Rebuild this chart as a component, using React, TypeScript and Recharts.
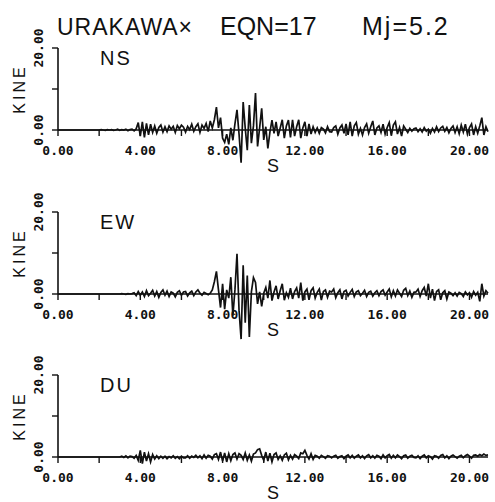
import React from "react";
import { LineChart, Line, XAxis, YAxis } from "recharts";

// ---------- data ----------
const DT = 0.1; // sampling step, s
const X_MAX = 20.9;
const X_TICKS = [0, 2, 4, 6, 8, 10, 12, 14, 16, 18, 20];
const X_LABELED = [0, 4, 8, 12, 16, 20];
const Y_TICKS = [0, 10, 20];
const Y_LABELED = [0, 20];
const Y_DOMAIN: [number, number] = [0, 20];

const TITLE_STATION = "URAKAWA×";
const TITLE_EQN = "EQN=17";
const TITLE_MJ = "Mj=5.2";
const COMPONENTS = ["NS", "EW", "DU"];
const X_TITLE = "S";
const Y_TITLE = "KINE";

const NS = [
  0, 0, 0, 0, 0, 0, 0, 0, 0, 0,
  0, 0, 0, 0, 0, 0, 0, 0, 0, 0, 0,
  0.1, 0, -0.1, 0.1, 0, 0.1, -0.1, 0, 0.2, -0.1,
  0.1, 0, 0.2, -0.2, 0.1, 0.2, -0.2, 0.3, 1.8, -1.5,
  2.0, -1.8, 1.6, -1.2, 1.4, -0.6, 1.0, -0.8, 0.6, 1.2,
  -0.5, 0.8, -0.4, 1.0, 0.2, 0.9, -0.6, 1.1, 0.3, 1.2, 0.7,
  -0.5, 0.9, 0.1, 1.4, -0.3, 0.8, 1.5, -0.6, 1.2, 0.4,
  1.6, -0.4, 2.2, 0.5, 2.5, 5.6, 0.5, 3.0, -2.0, -3.0,
  -1.0, -3.5, 0.5, -2.5, 1.5, 4.9, -1.0, -8.0, 6.8, 0.5,
  -4.9, 6.1, -3.2, 1.0, 9.0, -4.0, 0.5, 5.3, -2.4, 0.8,
  -4.5, -0.5, 2.4, -0.8, 2.0, -1.5, 0.5, 2.5, -2.0, 1.0,
  2.4, -1.8, 2.5, -1.5, 0.8, 2.5, -2.0, 0.5, 2.0, -1.5,
  1.5, -1.0, 0.8, -0.6, 0.5, -0.8, 0.6, 0.2, -0.7, 0.8, -0.4,
  -0.5, 0.6, 1.0, -1.0, 0.5, 1.2, -0.8, 1.5, -1.2, 2.0,
  -1.5, 1.0, 1.8, -1.0, 0.4, -1.2, 0.6, 1.5, -0.8, 0.8,
  2.2, -1.2, 0.5, 1.0, -0.6, 1.4, -1.0, 0.6, 1.8, -1.4,
  1.2, 2.0, -1.0, 0.6, -1.5, 1.0, 0.2, -0.6, 0.4, -0.3, 0.3,
  0.5, -0.4, 0.3, -0.5, 0.6, -0.3, 0.2, -0.8, 0.4, -0.5,
  0.8, -0.4, 0.5, 0.9, -0.3, 0.6, -0.7, 0.4, 1.0, -0.6,
  0.8, -0.9, 1.2, -0.5, 1.4, -1.0, 0.6, 1.5, -1.2, 0.8,
  -0.8, 1.0, 3.0, -1.2, 0.8, -0.4,
];

const EW = [
  0, 0, 0, 0, 0, 0, 0, 0, 0, 0,
  0, 0, 0, 0, 0, 0, 0, 0, 0, 0, 0,
  0, 0, 0, 0, 0, 0, 0, 0, 0, 0,
  0.1, 0, -0.1, 0.1, 0, 0.1, 0.3, -0.4, 0.6, -0.3,
  0.5, -0.6, 0.8, -0.4, 0.2, 0.9, -0.5, 0.6, -0.8, 0.4,
  1.0, -0.3, 0.7, -0.6, 0.5, 0.2, -0.7, 0.4, 0.8, -0.3, 0.5,
  0.6, -0.5, 0.3, 0.7, -0.4, 0.5, 1.0, 0.2, -0.3, 0.4,
  0.1, -0.2, 0.2, 1.0, 3.0, 5.5, 1.0, -3.3, 2.5, -3.7,
  1.0, -1.0, 4.1, -5.3, 1.0, 9.8, -4.0, -11.0, 7.0, -7.0,
  4.5, -10.5, 0.5, 4.0, 2.8, -2.4, 0.5, -3.0, 0.2, 1.6,
  -1.0, 3.3, -1.6, 0.5, 2.0, -1.2, 0.8, 2.5, -1.5, 0.3,
  -0.8, 1.4, -1.2, 0.6, 1.5, -1.0, 2.8, -1.6, 0.5, 1.2,
  -1.4, 0.8, 1.5, -1.0, 0.4, 1.2, -1.5, 0.6, 1.0, -0.8, 0.7,
  0.5, 1.2, -0.9, 0.3, 1.0, -1.2, 0.6, 0.9, -0.5, 0.4,
  1.1, -0.6, 0.5, 0.8, -0.4, 0.2, 0.9, -0.6, 0.4, 0.7,
  -0.5, 0.3, 0.8, -0.4, 0.6, 1.0, -0.3, 0.5, 1.2, -0.7,
  0.8, -0.5, 1.0, 0.2, -0.6, 0.9, 1.4, -0.4, 0.7, -0.8, 0.4,
  0.5, 1.2, -0.6, 0.8, 1.6, -0.5, 2.5, -1.0, 1.2, -1.6,
  0.6, 1.0, -1.4, 0.3, 0.8, -1.2, 0.5, 0.2, -0.4, 0.3,
  -0.5, 0.4, 0.1, -0.6, 0.5, -0.2, 0.3, -0.8, 0.6, -0.3,
  0.4, -1.8, 2.5, -0.5, 0.8, 0.2,
];

const DU = [
  0, 0, 0, 0, 0, 0, 0, 0, 0, 0,
  0, 0, 0, 0, 0, 0, 0, 0, 0, 0, 0,
  0, 0, 0, 0, 0, 0, 0, 0, 0, 0,
  0.2, -0.1, 0.3, -0.2, 0.2, 0.1, -0.3, 0.4, -0.8, 1.6,
  -1.6, 1.2, -1.0, 0.8, -1.2, 0.6, -0.5, 0.3, -0.4, 0.2,
  -0.3, 0.2, -0.4, 0.1, -0.2, 0.3, -0.3, 0.1, -0.4, 0.2, -0.2,
  -0.2, 0.3, -0.3, 0.2, -0.1, 0.4, -0.2, 0.3, -0.4, 0.5,
  -0.3, 0.4, 0.2, -0.5, 0.6, 0.8, -0.6, 1.2, -1.0, 1.0,
  -1.2, 0.8, -0.9, 0.6, 1.0, -0.5, 0.8, 0.4, -0.6, 1.0,
  -0.8, 0.5, -1.0, 0.7, 1.0, 1.8, 2.0, 0.4, -0.8, 1.2,
  -1.0, 0.9, -1.2, 0.6, 1.0, -0.6, 0.3, -0.8, 0.5, 0.9,
  -0.7, 0.4, -0.5, 0.6, 0.2, -0.4, 1.0, 0.8, 1.6, 0.4,
  -0.5, 0.8, -0.6, 0.4, 0.2, -0.3, 0.4, 0.1, -0.3, 0.3, 0.2,
  -0.2, 0.2, 0.4, -0.3, 0.1, 0.3, -0.4, 0.2, 0.5, -0.2,
  0.4, -0.3, 0.2, 0.5, -0.2, 0.3, -0.4, 0.3, 0.6, -0.2,
  0.3, -0.3, 0.4, 0.2, -0.4, 0.5, -0.2, 0.3, 0.6, -0.3,
  0.4, -0.2, 0.5, 0.1, -0.4, 0.3, 0.5, -0.3, 0.2, 0.4, -0.1,
  -0.2, 0.3, -0.4, 0.2, 0.5, -0.2, 0.3, 0.1, -0.5, 0.3,
  0.2, -0.3, 0.4, 0.6, -0.2, 0.3, -0.4, 0.2, 0.5, 0.1,
  -0.3, 0.2, 0.4, -0.2, 0.3, 0.6, 0.2, -0.3, 0.4, 0.5,
  0.2, 0.6, 0.3, 0.7, 0.4, 0.5,
];

const SERIES = [NS, EW, DU];

// ---------- styling ----------
const TICK_FONT = "'DejaVu Sans Mono', 'Liberation Mono', monospace";
const LABEL_FONT = "'Liberation Sans', Arial, sans-serif";
const INK = "#111";

const PANEL_W = 495;
const PANEL_H = 175;
const PANEL_TOPS = [0, 164, 327];
const MARGIN = { top: 48, right: 7, bottom: 0, left: 0 };

const fmtX = (v: number) => (X_LABELED.includes(v) ? v.toFixed(2) : "");

const YTick = (props: any) => {
  const { x, y, payload } = props;
  const v = payload?.value;
  if (!Y_LABELED.includes(v)) return <g />;
  return (
    <text
      x={x}
      y={y}
      transform={`rotate(-90 ${x} ${y})`}
      textAnchor="middle"
      fill={INK}
      fontFamily={TICK_FONT}
      fontSize={13}
      fontWeight="bold"
    >
      {Number(v).toFixed(2)}
    </text>
  );
};

const YTitle = (props: any) => {
  const vb = props.viewBox || { x: 0, y: 48, width: 58, height: 82 };
  const cx = vb.x + 19;
  const cy = vb.y + vb.height / 2;
  return (
    <text
      x={cx}
      y={cy}
      dy="0.36em"
      transform={`rotate(-90 ${cx} ${cy})`}
      textAnchor="middle"
      fill={INK}
      fontFamily={LABEL_FONT}
      fontSize={16}
      letterSpacing={3}
    >
      {Y_TITLE}
    </text>
  );
};

const XTitle = (props: any) => {
  const vb = props.viewBox || { x: 58, y: 130, width: 430, height: 45 };
  return (
    <text
      x={vb.x + vb.width / 2}
      y={vb.y + 42}
      textAnchor="middle"
      fill={INK}
      fontFamily={LABEL_FONT}
      fontSize={18}
    >
      {X_TITLE}
    </text>
  );
};

function Panel({ values, top }: { values: number[]; top: number }) {
  const data = values.map((v, i) => ({ t: Math.round(i * DT * 10) / 10, v }));
  return (
    <div style={{ position: "absolute", left: 0, top, width: PANEL_W, height: PANEL_H }}>
      <LineChart width={PANEL_W} height={PANEL_H} data={data} margin={MARGIN}>
        <XAxis
          dataKey="t"
          type="number"
          domain={[0, X_MAX]}
          ticks={X_TICKS}
          interval={0}
          tickFormatter={fmtX}
          height={45}
          tickSize={6}
          tickMargin={10}
          allowDataOverflow
          axisLine={{ stroke: INK, strokeWidth: 1.6 }}
          tickLine={{ stroke: INK, strokeWidth: 1.4 }}
          tick={{ fill: INK, fontSize: 13, fontFamily: TICK_FONT, fontWeight: "bold" }}
          label={<XTitle />}
        />
        <YAxis
          type="number"
          domain={Y_DOMAIN}
          ticks={Y_TICKS}
          interval={0}
          width={58}
          tickSize={6}
          tickMargin={9}
          allowDataOverflow
          axisLine={{ stroke: INK, strokeWidth: 1.6 }}
          tickLine={{ stroke: INK, strokeWidth: 1.4 }}
          tick={<YTick />}
          label={<YTitle />}
        />
        <Line
          type="linear"
          dataKey="v"
          stroke={INK}
          strokeWidth={1.7}
          dot={false}
          isAnimationActive={false}
        />
      </LineChart>
    </div>
  );
}

export default function App() {
  return (
    <div
      className="seis"
      style={{ position: "absolute", left: 0, top: 0, width: 495, height: 502, background: "#fff", overflow: "hidden" }}
    >
      <style>{`.seis [clip-path]{clip-path:none !important;} .seis .recharts-surface{overflow:visible;}`}</style>
      <svg width={495} height={502} style={{ position: "absolute", left: 0, top: 0 }}>
        <text x={57} y={35} fill={INK} fontFamily={LABEL_FONT} fontSize={23} letterSpacing={1}>
          {TITLE_STATION}
        </text>
        <text x={220} y={35} fill={INK} fontFamily={LABEL_FONT} fontSize={25}>
          {TITLE_EQN}
        </text>
        <text x={362} y={35} fill={INK} fontFamily={LABEL_FONT} fontSize={25} letterSpacing={2}>
          {TITLE_MJ}
        </text>
        {COMPONENTS.map((c, k) => (
          <text key={c} x={100} y={PANEL_TOPS[k] + 65} fill={INK} fontFamily={LABEL_FONT} fontSize={20} letterSpacing={2}>
            {c}
          </text>
        ))}
      </svg>
      {SERIES.map((s, k) => (
        <Panel key={COMPONENTS[k]} values={s} top={PANEL_TOPS[k]} />
      ))}
    </div>
  );
}
